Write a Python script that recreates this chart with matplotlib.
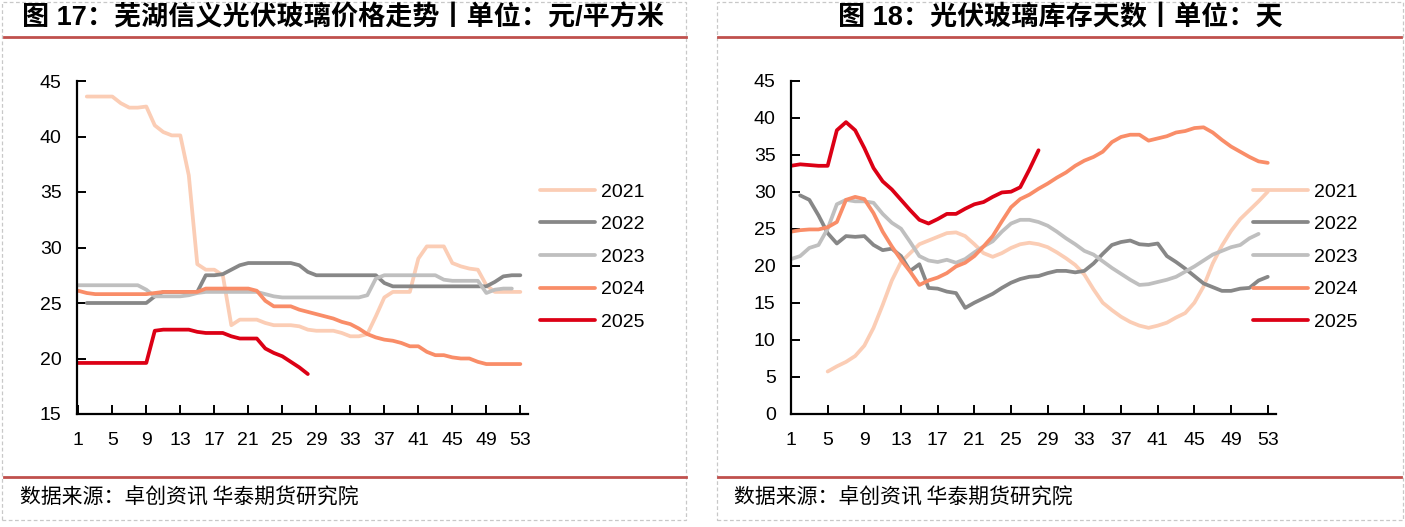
import numpy as np
import matplotlib
matplotlib.use("Agg")
import matplotlib.pyplot as plt
from matplotlib.patches import Rectangle
from matplotlib.lines import Line2D

plt.rcParams['font.family'] = ['Liberation Sans', 'Noto Sans CJK SC', 'DejaVu Sans']

nan = np.nan
weeks = np.arange(1, 54)
xtick_vals = list(range(1, 54, 4))
years = ["2021", "2022", "2023", "2024", "2025"]
colors = ["#FBCDB5", "#878787", "#BFBFBF", "#F98D68", "#DC0015"]

title_left = "图 17：芜湖信义光伏玻璃价格走势丨单位：元/平方米"
title_right = "图 18：光伏玻璃库存天数丨单位：天"
source_text = "数据来源：卓创资讯 华泰期货研究院"

# ---- Chart 17: price (yuan / m2) ----
price_2021 = [nan, 43.6, 43.6, 43.6, 43.6, 43.0, 42.6, 42.6, 42.7, 41.0,
              40.4, 40.1, 40.1, 36.5, 28.5, 28.0, 28.0, 27.5, 23.0, 23.5,
              23.5, 23.5, 23.2, 23.0, 23.0, 23.0, 22.9, 22.6, 22.5, 22.5,
              22.5, 22.3, 22.0, 22.0, 22.2, 23.8, 25.5, 26.0, 26.0, 26.0,
              29.0, 30.1, 30.1, 30.1, 28.6, 28.3, 28.1, 28.0, 26.6, 26.0,
              26.0, 26.0, 26.0]
price_2022 = [nan, 25.0, 25.0, 25.0, 25.0, 25.0, 25.0, 25.0, 25.0, 25.6,
              26.0, 26.0, 26.0, 26.0, 26.0, 27.5, 27.5, 27.6, 28.0, 28.4,
              28.6, 28.6, 28.6, 28.6, 28.6, 28.6, 28.4, 27.8, 27.5, 27.5,
              27.5, 27.5, 27.5, 27.5, 27.5, 27.5, 26.8, 26.5, 26.5, 26.5,
              26.5, 26.5, 26.5, 26.5, 26.5, 26.5, 26.5, 26.5, 26.5, 26.9,
              27.4, 27.5, 27.5]
price_2023 = [26.6, 26.6, 26.6, 26.6, 26.6, 26.6, 26.6, 26.6, 26.2, 25.6,
              25.6, 25.6, 25.6, 25.7, 25.9, 26.0, 26.0, 26.0, 26.0, 26.0,
              26.0, 26.0, 25.8, 25.6, 25.5, 25.5, 25.5, 25.5, 25.5, 25.5,
              25.5, 25.5, 25.5, 25.5, 25.7, 27.2, 27.5, 27.5, 27.5, 27.5,
              27.5, 27.5, 27.5, 27.1, 27.0, 27.0, 27.0, 27.0, 25.9, 26.2,
              26.3, 26.3, nan]
price_2024 = [26.1, 25.9, 25.8, 25.8, 25.8, 25.8, 25.8, 25.8, 25.8, 25.9,
              26.0, 26.0, 26.0, 26.0, 26.0, 26.3, 26.3, 26.3, 26.3, 26.3,
              26.3, 26.1, 25.2, 24.7, 24.7, 24.7, 24.4, 24.2, 24.0, 23.8,
              23.6, 23.3, 23.1, 22.7, 22.2, 21.9, 21.7, 21.6, 21.4, 21.1,
              21.1, 20.6, 20.3, 20.3, 20.1, 20.0, 20.0, 19.7, 19.5, 19.5,
              19.5, 19.5, 19.5]
price_2025 = [19.6, 19.6, 19.6, 19.6, 19.6, 19.6, 19.6, 19.6, 19.6, 22.5,
              22.6, 22.6, 22.6, 22.6, 22.4, 22.3, 22.3, 22.3, 22.0, 21.8,
              21.8, 21.8, 20.9, 20.5, 20.2, 19.7, 19.2, 18.6]

# ---- Chart 18: inventory days ----
days_2021 = [nan, nan, nan, nan, 5.7, 6.4, 7.0, 7.8, 9.2, 11.6,
             14.7, 18.0, 20.5, 21.7, 22.9, 23.4, 23.9, 24.4, 24.5, 24.0,
             22.9, 21.7, 21.2, 21.7, 22.4, 22.9, 23.1, 22.9, 22.5, 21.8,
             21.0, 20.1, 18.8, 16.8, 15.0, 14.0, 13.1, 12.4, 11.9, 11.6,
             11.9, 12.3, 13.0, 13.6, 15.0, 17.2, 20.3, 22.7, 24.7, 26.3,
             27.5, 28.7, 30.0]
days_2022 = [nan, 29.5, 28.9, 26.8, 24.4, 23.0, 24.0, 23.9, 24.0, 22.8,
             22.1, 22.3, 21.3, 19.3, 20.2, 17.0, 16.9, 16.5, 16.3, 14.3,
             15.0, 15.6, 16.2, 17.0, 17.7, 18.2, 18.5, 18.6, 19.0, 19.3,
             19.3, 19.1, 19.3, 20.3, 21.6, 22.8, 23.2, 23.4, 22.9, 22.8,
             23.0, 21.3, 20.5, 19.6, 18.6, 17.6, 17.1, 16.6, 16.6, 16.9,
             17.0, 18.0, 18.5]
days_2023 = [20.9, 21.3, 22.4, 22.8, 25.0, 28.3, 28.9, 28.7, 28.7, 28.5,
             27.0, 25.8, 25.0, 23.2, 21.3, 20.7, 20.5, 20.8, 20.4, 20.9,
             21.8, 22.6, 23.3, 24.6, 25.7, 26.2, 26.2, 25.9, 25.4, 24.6,
             23.7, 22.9, 22.0, 21.5, 20.6, 19.7, 18.9, 18.1, 17.4, 17.5,
             17.8, 18.1, 18.5, 19.2, 19.9, 20.7, 21.5, 22.0, 22.5, 22.8,
             23.7, 24.3, nan]
days_2024 = [24.6, 24.8, 24.9, 24.9, 25.2, 25.9, 28.9, 29.3, 29.0, 27.1,
             24.6, 22.6, 20.8, 19.2, 17.4, 18.0, 18.4, 19.0, 19.9, 20.4,
             21.3, 22.6, 24.0, 26.0, 27.9, 29.0, 29.6, 30.4, 31.1, 31.9,
             32.6, 33.5, 34.2, 34.7, 35.4, 36.7, 37.4, 37.7, 37.7, 36.9,
             37.2, 37.5, 38.0, 38.2, 38.6, 38.7, 38.0, 37.0, 36.1, 35.4,
             34.7, 34.1, 33.9]
days_2025 = [33.5, 33.7, 33.6, 33.5, 33.5, 38.3, 39.4, 38.3, 35.9, 33.2,
             31.4, 30.3, 28.9, 27.5, 26.2, 25.7, 26.3, 27.0, 27.0, 27.7,
             28.3, 28.6, 29.3, 29.9, 30.0, 30.6, 33.0, 35.6]

price_series = [price_2021, price_2022, price_2023, price_2024, price_2025]
days_series = [days_2021, days_2022, days_2023, days_2024, days_2025]

W, H = 1405, 527
fig = plt.figure(figsize=(W / 100, H / 100), dpi=100)


def px_rect(x0, y0, x1, y1):
    return [x0 / W, 1 - y1 / H, (x1 - x0) / W, (y1 - y0) / H]


FS = 14


def style_axes(ax):
    for s in ("top", "right"):
        ax.spines[s].set_visible(False)
    for s in ("left", "bottom"):
        ax.spines[s].set_linewidth(1.6)
        ax.spines[s].set_color("black")
    ax.tick_params(axis="both", direction="in", length=6.5, width=1.4,
                   labelsize=FS, colors="black")
    ax.tick_params(axis="y", pad=11)
    ax.tick_params(axis="x", pad=13)
    ax.set_xticks(xtick_vals)
    ax.set_facecolor("none")


def draw_lines(ax, series_list):
    handles = []
    for yr, col, vals in zip(years, colors, series_list):
        v = np.array(vals, dtype=float)
        x = weeks[:len(v)]
        ln, = ax.plot(x, v, color=col, lw=2.7, label=yr,
                      solid_joinstyle="round", solid_capstyle="round")
        handles.append(ln)
    return handles


# Left chart
ax1 = fig.add_axes(px_rect(77, 81, 528, 414))
h1 = draw_lines(ax1, price_series)
ax1.set_xlim(0.85, 53.9)
ax1.set_ylim(15, 45)
ax1.set_yticks(range(15, 46, 5))
style_axes(ax1)

# Right chart
ax2 = fig.add_axes(px_rect(791, 80.7, 1276, 413.7))
h2 = draw_lines(ax2, days_series)
ax2.set_xlim(1, 53.9)
ax2.set_ylim(0, 45)
ax2.set_yticks(range(0, 46, 5))
style_axes(ax2)

for ax, hs, lx in ((ax1, h1, 540), (ax2, h2, 1253)):
    leg = fig.legend(handles=hs, labels=years, loc="center left",
                     bbox_to_anchor=(lx / W, 1 - 257 / H),
                     frameon=False, fontsize=FS, borderpad=0, borderaxespad=0,
                     handlelength=2.83, handletextpad=0.32, labelspacing=0.77)
    for t in leg.get_texts():
        t.set_color("black")

# Titles
fig.text(343.5 / W, 1 - 18 / H, title_left, ha="center", va="center",
         fontsize=19.5, fontweight="bold", color="black")
fig.text(1060 / W, 1 - 18 / H, title_right, ha="center", va="center",
         fontsize=19.5, fontweight="bold", color="black")

# Red rules
red = "#C0504D"
for x0, x1 in ((4, 686), (718, 1401)):
    for yy in (37, 477):
        fig.add_artist(Line2D([x0 / W, x1 / W], [1 - yy / H, 1 - yy / H],
                              color=red, lw=2.0, transform=fig.transFigure))

# Footers
fig.text(20 / W, 1 - 498 / H, source_text, ha="left", va="center",
         fontsize=15, color="black", family=["Noto Sans CJK SC"])
fig.text(734 / W, 1 - 498 / H, source_text, ha="left", va="center",
         fontsize=15, color="black", family=["Noto Sans CJK SC"])

# Dashed panel borders
for x0, x1 in ((2, 686), (717, 1403)):
    fig.add_artist(Rectangle((x0 / W, 1 - 520 / H), (x1 - x0) / W, 518 / H,
                             transform=fig.transFigure, fill=False,
                             edgecolor="#C8C8C8", lw=0.9, ls=(0, (3, 2))))

fig.savefig("out.png", dpi=100, facecolor="white")
